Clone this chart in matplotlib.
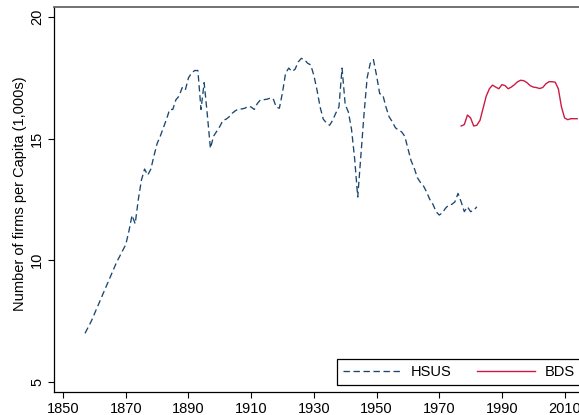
import matplotlib
matplotlib.use("Agg")
import matplotlib.pyplot as plt

plt.rcParams["font.family"] = ["Liberation Sans", "DejaVu Sans"]
plt.rcParams["lines.scale_dashes"] = False

# ── Data ───────────────────────────────────────────────────────────────────
hsus_years = list(range(1857, 1983))
hsus_vals = [
    7.0, 7.25, 7.5, 7.8, 8.1, 8.4, 8.7, 9.0, 9.3, 9.6,            # 1857-1866
    9.9, 10.15, 10.4, 10.65, 11.2, 11.85, 11.5, 12.5, 13.3, 13.75,  # 1867-1876
    13.5, 13.75, 14.3, 14.8, 15.1, 15.45, 15.8, 16.2, 16.2, 16.6,   # 1877-1886
    16.75, 17.1, 17.0, 17.5, 17.7, 17.8, 17.8, 16.2, 17.3, 16.0,    # 1887-1896
    14.6, 15.1, 15.3, 15.5, 15.75, 15.8, 15.9, 16.05, 16.15, 16.22, # 1897-1906
    16.22, 16.25, 16.33, 16.3, 16.2, 16.45, 16.6, 16.6, 16.62, 16.66,  # 1907-1916
    16.65, 16.3, 16.25, 16.9, 17.7, 17.9, 17.76, 17.85, 18.15, 18.3,   # 1917-1926
    18.25, 18.1, 18.03, 17.6, 17.0, 16.3, 15.8, 15.65, 15.55, 15.75,   # 1927-1936
    16.05, 16.3, 17.9, 16.4, 16.1, 15.4, 14.2, 12.6, 14.3, 16.0,       # 1937-1946
    17.5, 18.1, 18.25, 17.6, 16.85, 16.8, 16.3, 15.9, 15.7, 15.45,     # 1947-1956
    15.35, 15.28, 15.1, 14.6, 14.1, 13.8, 13.4, 13.2, 13.05, 12.8,     # 1957-1966
    12.5, 12.3, 12.0, 11.86, 11.95, 12.14, 12.27, 12.3, 12.4, 12.75,   # 1967-1976
    12.4, 12.0, 12.2, 12.0, 12.05, 12.2,                               # 1977-1982
]

bds_years = list(range(1977, 2015))
bds_vals = [
    15.52, 15.58, 15.97, 15.85, 15.52, 15.55, 15.75, 16.25, 16.75, 17.05,  # 1977-1986
    17.2, 17.12, 17.05, 17.22, 17.18, 17.05, 17.12, 17.22, 17.34, 17.4,    # 1987-1996
    17.38, 17.3, 17.18, 17.12, 17.1, 17.06, 17.1, 17.25, 17.34, 17.34,     # 1997-2006
    17.32, 17.05, 16.3, 15.85, 15.78, 15.82, 15.82, 15.82,                 # 2007-2014
]

x_ticks = list(range(1850, 2011, 20))
y_ticks = [5, 10, 15, 20]

# ── Figure ─────────────────────────────────────────────────────────────────
W, H = 579, 415
fig = plt.figure(figsize=(W / 100, H / 100), dpi=100)
# axes run past the right edge, like the cropped original
ax = fig.add_axes([54 / W, 23.3 / H, (590 - 54) / W, (391.7 - 7.5) / H])

ax.plot(hsus_years, hsus_vals, color="#1a476f", lw=0.95, dashes=(4.6, 2.6), label="HSUS")
ax.plot(bds_years, bds_vals, color="#cc1a44", lw=1.0, label="BDS")

ax.set_xlim(1847.1, 2018.1)
ax.set_ylim(4.6, 20.39)
ax.set_xticks(x_ticks)
ax.set_yticks(y_ticks)

ax.tick_params(axis="both", direction="out", length=4.2, width=0.8, labelsize=10.5, color="black", pad=3)
ax.tick_params(axis="y", labelrotation=90)
for lab in ax.get_yticklabels():
    lab.set_va("center")

ax.set_ylabel("Number of firms per Capita (1,000s)", fontsize=10.5)
ax.yaxis.set_label_coords(-0.050, 0.515)

ax.spines["right"].set_visible(False)
ax.spines["left"].set_linewidth(0.9)
ax.spines["bottom"].set_linewidth(0.9)
ax.spines["top"].set_color("#666666")
ax.spines["top"].set_linewidth(1.3)

leg = ax.legend(
    loc="lower left", bbox_to_anchor=(337.3 / W, (H - 385) / H), bbox_transform=fig.transFigure,
    borderaxespad=0, ncol=2, fontsize=10.5, handlelength=4.0, handletextpad=0.65,
    columnspacing=1.7, borderpad=0.42, frameon=True, fancybox=False, framealpha=1,
)
leg.get_frame().set_edgecolor("black")
leg.get_frame().set_linewidth(0.9)

plt.savefig("out.png", dpi=100)
plt.close()
